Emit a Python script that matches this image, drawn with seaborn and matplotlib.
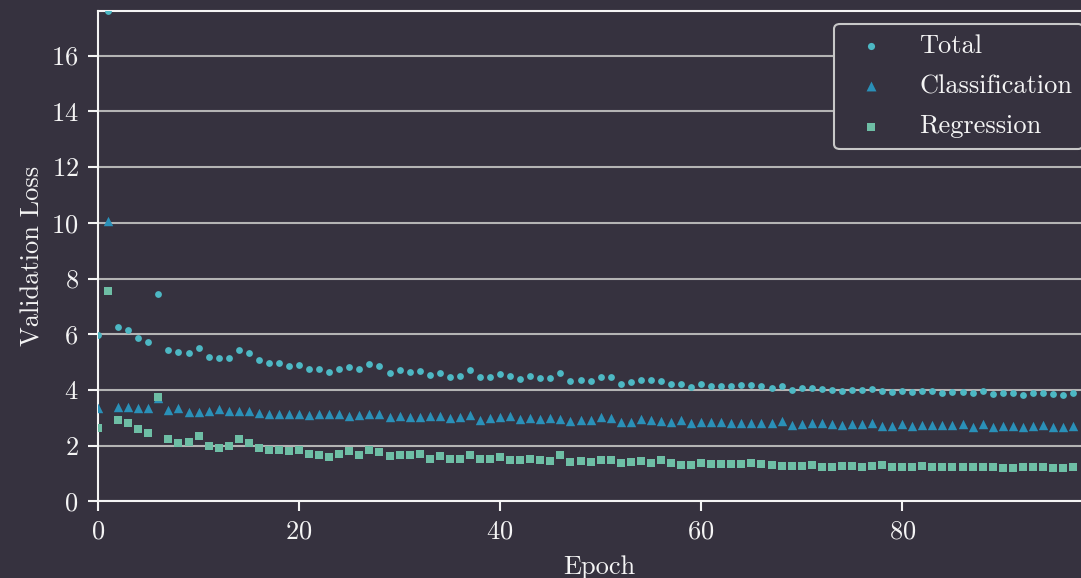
import numpy as np
import pandas as pd
import seaborn as sns
import matplotlib
matplotlib.use("Agg")
import matplotlib.pyplot as plt

# Validation losses per epoch
epochs = list(range(98))

total_loss = [
    5.96, 17.60, 6.25, 6.16, 5.88, 5.72, 7.44, 5.45, 5.38, 5.32,
    5.50, 5.17, 5.16, 5.15, 5.43, 5.32, 5.07, 4.95, 4.97, 4.87,
    4.90, 4.75, 4.77, 4.65, 4.77, 4.81, 4.74, 4.93, 4.86, 4.62,
    4.71, 4.65, 4.68, 4.55, 4.62, 4.48, 4.51, 4.71, 4.46, 4.48,
    4.56, 4.50, 4.41, 4.50, 4.43, 4.43, 4.61, 4.32, 4.35, 4.32,
    4.48, 4.46, 4.20, 4.28, 4.35, 4.34, 4.33, 4.20, 4.20, 4.10,
    4.20, 4.16, 4.16, 4.14, 4.17, 4.19, 4.14, 4.07, 4.14, 4.00,
    4.07, 4.07, 4.04, 4.00, 3.98, 4.00, 4.00, 4.02, 3.98, 3.92,
    3.98, 3.93, 3.98, 3.95, 3.90, 3.92, 3.93, 3.88, 3.95, 3.86,
    3.90, 3.88, 3.83, 3.88, 3.89, 3.86, 3.83, 3.90,
]

classification_loss = [
    3.34, 10.05, 3.38, 3.40, 3.35, 3.35, 3.72, 3.27, 3.34, 3.22,
    3.21, 3.23, 3.31, 3.23, 3.23, 3.26, 3.19, 3.15, 3.14, 3.12,
    3.13, 3.11, 3.13, 3.13, 3.14, 3.08, 3.11, 3.14, 3.14, 3.04,
    3.08, 3.04, 3.03, 3.08, 3.07, 3.00, 3.03, 3.09, 2.93, 2.98,
    3.03, 3.05, 2.95, 3.01, 2.97, 3.01, 2.97, 2.90, 2.91, 2.93,
    3.03, 2.98, 2.86, 2.85, 2.95, 2.92, 2.88, 2.85, 2.92, 2.81,
    2.85, 2.85, 2.85, 2.81, 2.81, 2.81, 2.81, 2.80, 2.87, 2.74,
    2.79, 2.80, 2.83, 2.77, 2.75, 2.78, 2.78, 2.80, 2.72, 2.72,
    2.78, 2.72, 2.75, 2.74, 2.74, 2.74, 2.77, 2.68, 2.77, 2.68,
    2.71, 2.71, 2.68, 2.71, 2.74, 2.68, 2.68, 2.72,
]

regression_loss = [
    2.63, 7.56, 2.92, 2.81, 2.60, 2.47, 3.76, 2.24, 2.11, 2.13,
    2.35, 1.98, 1.90, 1.99, 2.24, 2.11, 1.92, 1.84, 1.86, 1.81,
    1.83, 1.69, 1.66, 1.59, 1.71, 1.80, 1.68, 1.83, 1.78, 1.62,
    1.66, 1.66, 1.71, 1.54, 1.62, 1.54, 1.54, 1.65, 1.52, 1.53,
    1.59, 1.47, 1.47, 1.54, 1.49, 1.44, 1.68, 1.41, 1.44, 1.41,
    1.49, 1.49, 1.38, 1.41, 1.44, 1.39, 1.47, 1.38, 1.31, 1.31,
    1.39, 1.35, 1.33, 1.34, 1.34, 1.39, 1.35, 1.31, 1.28, 1.26,
    1.28, 1.29, 1.24, 1.24, 1.27, 1.27, 1.24, 1.27, 1.29, 1.22,
    1.24, 1.24, 1.26, 1.24, 1.22, 1.24, 1.22, 1.22, 1.22, 1.22,
    1.21, 1.19, 1.22, 1.22, 1.22, 1.20, 1.21, 1.22,
]

series_names = ["Total", "Classification", "Regression"]
x_ticks = [0, 20, 40, 60, 80]
y_ticks = [0, 2, 4, 6, 8, 10, 12, 14, 16]

BG = "#36323f"
FG = "#f4f4f4"
colors = ["#4db8c4", "#2a90b8", "#6ebea5"]
markers = ["o", "^", "s"]
sizes = [24, 46, 38]

sns.set_theme(style="dark")
plt.rcParams.update({
    "font.family": ["cmr10", "DejaVu Serif"],
    "mathtext.fontset": "cm",
    "axes.formatter.use_mathtext": True,
    "axes.unicode_minus": False,
    "figure.facecolor": BG,
    "axes.facecolor": BG,
    "savefig.facecolor": BG,
    "text.color": FG,
    "axes.labelcolor": FG,
    "xtick.color": FG,
    "ytick.color": FG,
    "axes.edgecolor": FG,
    "font.size": 19,
})

df = pd.DataFrame({
    "Epoch": epochs * 3,
    "Loss": total_loss + classification_loss + regression_loss,
    "Series": np.repeat(series_names, len(epochs)),
})

fig = plt.figure(figsize=(10.81, 5.78), dpi=100)
ax = fig.add_axes([0.0907, 0.1325, 0.928, 0.8484])

for name, c, m, s in zip(series_names, colors, markers, sizes):
    sub = df[df["Series"] == name]
    sns.scatterplot(data=sub, x="Epoch", y="Loss", ax=ax, color=c, marker=m,
                    s=s, linewidth=0, label=name, zorder=3, clip_on=True)

ax.set_xlim(0, 99.8)
ax.set_ylim(0, 17.6)
ax.set_xticks(x_ticks)
ax.set_yticks(y_ticks)
ax.yaxis.grid(True, color="#b4b4b4", linewidth=1.5)
ax.xaxis.grid(False)
ax.set_axisbelow(True)

for side in ["left", "bottom", "top", "right"]:
    ax.spines[side].set_visible(True)
    ax.spines[side].set_color(FG)
    ax.spines[side].set_linewidth(1.5)

ax.tick_params(axis="both", which="major", length=7, width=1.5,
               labelsize=19, colors=FG, bottom=True, left=True,
               top=False, right=False)
ax.tick_params(axis="y", pad=7)
ax.tick_params(axis="x", pad=6)

ax.set_xlabel("Epoch", fontsize=19, labelpad=9)
ax.set_ylabel("Validation Loss", fontsize=19, labelpad=4.5)

leg = ax.legend(loc="upper right", frameon=True, fancybox=True,
                fontsize=19, handletextpad=0.82, borderpad=0.4,
                labelspacing=0.62, markerscale=1.05, handlelength=2.0,
                borderaxespad=0.0,
                bbox_to_anchor=(1083.0 / 1081, (578 - 24) / 578),
                bbox_transform=fig.transFigure)
leg.get_frame().set_facecolor(BG)
leg.get_frame().set_edgecolor("#c8c8c8")
leg.get_frame().set_linewidth(1.5)
leg.get_frame().set_alpha(1.0)
for t in leg.get_texts():
    t.set_color(FG)

fig.savefig("out.png", dpi=100, facecolor=BG)
